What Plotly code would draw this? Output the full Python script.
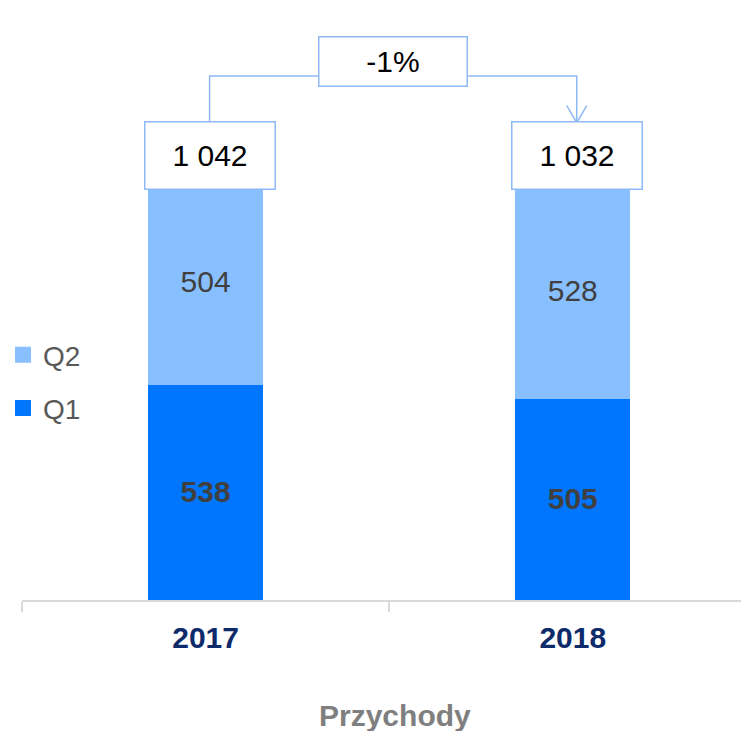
import plotly.graph_objects as go

categories = ["2017", "2018"]
q1 = [538, 505]
q2 = [504, 528]
totals = [1042, 1032]
change_label = "-1%"
total_labels = ["1 042", "1 032"]

FONT = "Liberation Sans, Arial, sans-serif"
C_Q1 = "#0076ff"
C_Q2 = "#88bfff"
C_BOX = "#8fb9f6"

OFF = 8  # page body margin
W, H = 749 - OFF, 731 - OFF
ML, MR, MT, MB = 22 - OFF, 0, 40 - OFF, 131
XR = [-0.5, 1.48]
YR = [0, 1390]
PW = W - ML - MR
PH = H - MT - MB
LW = 4  # bar outline (same colour), also enlarges legend swatches
BAR_W = (115 - LW) / (PW / (XR[1] - XR[0]))


def px_x(i):
    return ML + (i - XR[0]) / (XR[1] - XR[0]) * PW


def px_y(v):
    return MT + PH - (v - YR[0]) / (YR[1] - YR[0]) * PH


def paper_x(px):
    return (px - ML) / PW


def paper_y(py):
    return (MT + PH - py) / PH


fig = go.Figure()
fig.add_trace(go.Bar(
    x=categories, y=q1, name="Q1", width=BAR_W,
    marker=dict(color=C_Q1, line=dict(color=C_Q1, width=LW)),
    text=[f"<b>{v}</b>" for v in q1], textposition="inside", insidetextanchor="middle",
    textangle=0, textfont=dict(size=30, color="#404040", family=FONT),
    legendgroup="q1", legendrank=2,
))
fig.add_trace(go.Bar(
    x=categories, y=q2, name="Q2", width=BAR_W,
    marker=dict(color=C_Q2, line=dict(color=C_Q2, width=LW)),
    text=[str(v) for v in q2], textposition="inside", insidetextanchor="middle",
    textangle=0, textfont=dict(size=30, color="#404040", family=FONT),
    legendgroup="q2", legendrank=1,
))

BOX_W, BOX_H, SHIFT_DOWN, XSH = 129, 66, 10, 4
box_ref = max(totals)
box_top = px_y(box_ref) + SHIFT_DOWN - BOX_H - 1.5
for i, lab in enumerate(total_labels):
    fig.add_annotation(
        x=i, y=box_ref, xref="x", yref="y", text=lab, showarrow=False,
        xanchor="center", yanchor="bottom", yshift=-SHIFT_DOWN, xshift=XSH,
        width=BOX_W, height=BOX_H, borderpad=0, borderwidth=1.5,
        bordercolor=C_BOX, bgcolor="white",
        font=dict(size=30, color="#000000", family=FONT),
    )

# change box
top_cy = 62 - OFF
TB_W, TB_H = 147, 48
mid_px = px_x(0.5) + XSH
fig.add_annotation(
    x=paper_x(mid_px), y=paper_y(top_cy), xref="paper", yref="paper",
    text=change_label, showarrow=False, xanchor="center", yanchor="middle",
    width=TB_W, height=TB_H, borderpad=0, borderwidth=1.5,
    bordercolor=C_BOX, bgcolor="white",
    font=dict(size=30, color="#000000", family=FONT),
)

conn_y = top_cy + 14
x0 = px_x(0) + XSH
x1 = px_x(1) + XSH
lbx = mid_px - TB_W / 2 - 1.5
rbx = mid_px + TB_W / 2 + 1.5
path_l = f"M {paper_x(x0)},{paper_y(box_top)} L {paper_x(x0)},{paper_y(conn_y)} L {paper_x(lbx)},{paper_y(conn_y)}"
path_r = f"M {paper_x(rbx)},{paper_y(conn_y)} L {paper_x(x1)},{paper_y(conn_y)} L {paper_x(x1)},{paper_y(box_top)}"
path_v = (f"M {paper_x(x1 - 10)},{paper_y(box_top - 17)} L {paper_x(x1)},{paper_y(box_top)} "
          f"L {paper_x(x1 + 10)},{paper_y(box_top - 17)}")
for p in (path_l, path_r, path_v):
    fig.add_shape(type="path", path=p, xref="paper", yref="paper",
                  line=dict(color=C_BOX, width=1.5), layer="above")

fig.add_annotation(
    x=paper_x(px_x(0.5) + 6), y=paper_y(715 - OFF), xref="paper", yref="paper",
    text="<b>Przychody</b>", showarrow=False, xanchor="center", yanchor="middle",
    font=dict(size=30, color="#7f7f7f", family=FONT),
)

fig.update_layout(
    width=W, height=H, barmode="stack",
    margin=dict(l=ML, r=MR, t=MT, b=MB, autoexpand=False),
    paper_bgcolor="white", plot_bgcolor="white",
    font=dict(family=FONT),
    showlegend=True,
    legend=dict(
        traceorder="grouped", tracegroupgap=14,
        font=dict(size=28, color="#595959", family=FONT),
        xref="paper", yref="paper", x=paper_x(-5), xanchor="left",
        y=paper_y(330 - OFF), yanchor="top", bgcolor="rgba(0,0,0,0)",
        itemwidth=30,
    ),
    xaxis=dict(
        type="category",
        range=XR, showline=True, linecolor="#d9d9d9", linewidth=2,
        ticks="outside", tickson="boundaries", ticklen=10, tickwidth=2,
        tickcolor="#d9d9d9", showgrid=False, zeroline=False,
        tickfont=dict(size=30, color="#0d2a6b", family=FONT, weight="bold"),
        ticklabelstandoff=10, fixedrange=True,
    ),
    yaxis=dict(range=YR, visible=False, showgrid=False, zeroline=False),
)

fig.write_html("out.html")
